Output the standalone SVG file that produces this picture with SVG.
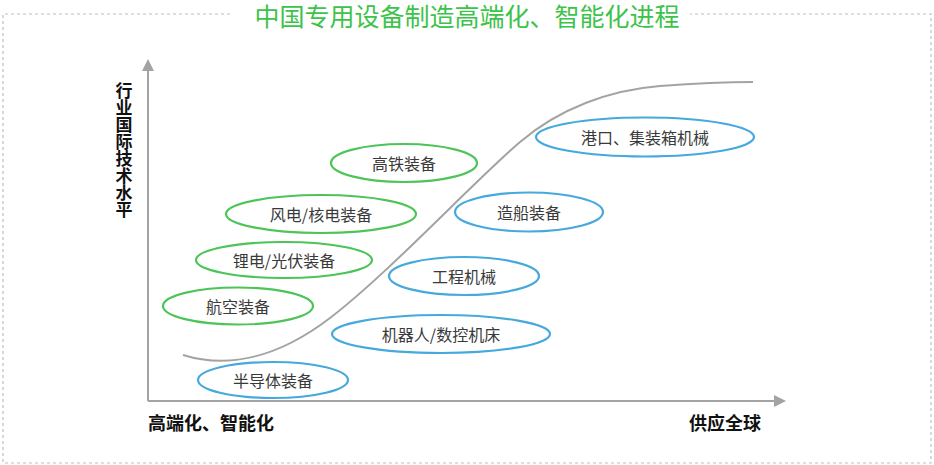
<svg xmlns="http://www.w3.org/2000/svg" width="934" height="465" viewBox="0 0 934 465">
<defs>
<style>
.frame{fill:none;stroke:#bdbdbd;stroke-width:1.2;stroke-dasharray:3,3}
.title{font-family:"Noto Sans CJK SC","Noto Sans",sans-serif;font-size:25px;fill:#3cc34a;text-anchor:middle}
.axis{fill:none;stroke:#a3a3a3;stroke-width:2}
.lab{font-family:"Noto Sans CJK SC",sans-serif;font-size:18px;font-weight:bold;fill:#111}
.vlab{font-family:"Noto Sans CJK SC",sans-serif;font-size:17px;font-weight:bold;fill:#111;writing-mode:vertical-rl}
.g ellipse{fill:none;stroke:#4cc457;stroke-width:2.2}
.b ellipse{fill:none;stroke:#46a9de;stroke-width:2.2}
.n text{font-family:"Noto Sans CJK SC",sans-serif;font-size:16px;fill:#3a3a3a;text-anchor:middle;dominant-baseline:central}
</style>
</defs>
<rect width="934" height="465" fill="#fff"/>
<g id="frame">
<path class="frame" d="M230,14 H3 V463 H931 V14 H690"/>
<text class="title" x="467" y="26">中国专用设备制造高端化、智能化进程</text>
</g>
<g id="axes">
<line class="axis" x1="148" y1="401" x2="148" y2="66"/>
<path d="M142,71 L148,59 L154,71 z" fill="#a3a3a3"/>
<line class="axis" x1="148" y1="401" x2="778" y2="401"/>
<path d="M774,395 L786,401 L774,407 z" fill="#a3a3a3"/>
<text class="vlab" x="124" y="82">行业国际技术水平</text>
<text class="lab" x="148" y="430">高端化、智能化</text>
<text class="lab" x="689" y="430">供应全球</text>
</g>
<g id="connectors">
<path d="M183,355 C225,368 275,360 330,318 C390,272 470,185 520,142 C560,108 610,90 660,86 C700,83 730,82 753,82" fill="none" stroke="#a3a3a3" stroke-width="2"/>
</g>
<g id="n1" class="n g"><ellipse cx="404" cy="163" rx="73" ry="19"/><text x="404" y="163">高铁装备</text></g>
<g id="n2" class="n g"><ellipse cx="321" cy="214" rx="95" ry="19"/><text x="321" y="214">风电/核电装备</text></g>
<g id="n3" class="n g"><ellipse cx="284" cy="260" rx="88" ry="18"/><text x="284" y="260">锂电/光伏装备</text></g>
<g id="n4" class="n g"><ellipse cx="238" cy="306" rx="75" ry="18.5"/><text x="238" y="306">航空装备</text></g>
<g id="n5" class="n b"><ellipse cx="645" cy="137" rx="109" ry="19.5"/><text x="645" y="137">港口、集装箱机械</text></g>
<g id="n6" class="n b"><ellipse cx="529" cy="212" rx="74" ry="19.5"/><text x="529" y="212">造船装备</text></g>
<g id="n7" class="n b"><ellipse cx="464" cy="276" rx="75" ry="19"/><text x="464" y="276">工程机械</text></g>
<g id="n8" class="n b"><ellipse cx="441" cy="334" rx="109" ry="19"/><text x="441" y="334">机器人/数控机床</text></g>
<g id="n9" class="n b"><ellipse cx="273" cy="380" rx="75" ry="18"/><text x="273" y="380">半导体装备</text></g>
</svg>
